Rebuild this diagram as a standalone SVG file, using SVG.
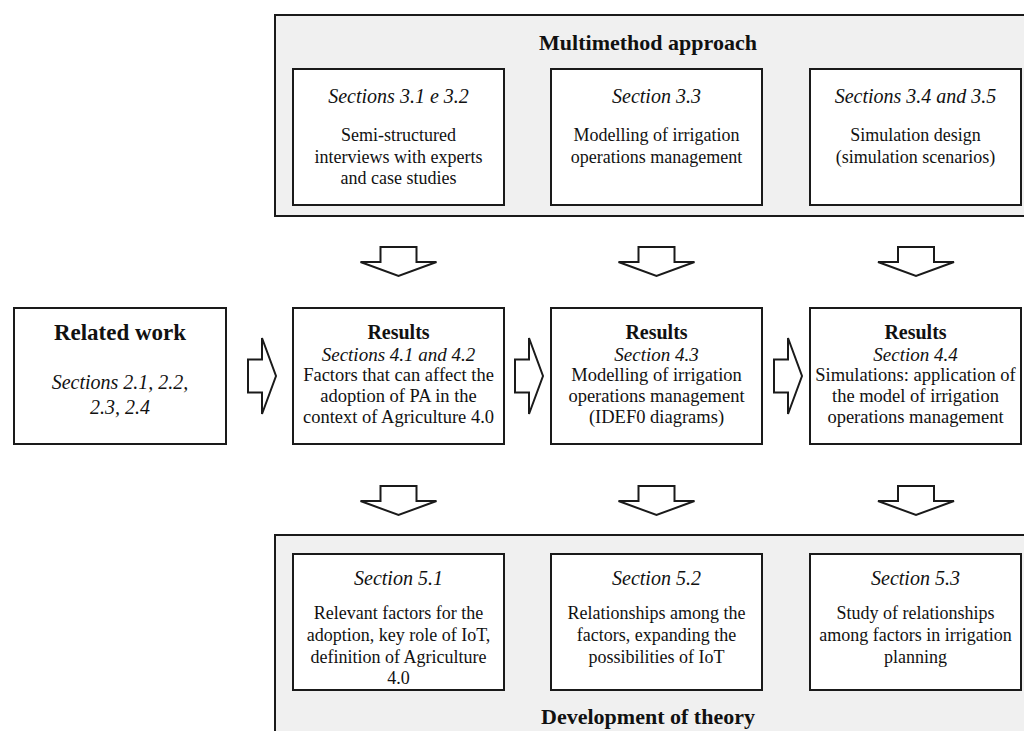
<svg xmlns="http://www.w3.org/2000/svg" width="1024" height="731" viewBox="0 0 1024 731">
  <style>
    text { font-family: "Liberation Serif", "Times New Roman", serif; fill: #111; text-anchor: middle; }
    .panel { fill: #f0f0f0; stroke: #1a1a1a; stroke-width: 2; }
    .box { fill: #ffffff; stroke: #1a1a1a; stroke-width: 2; }
    .arrow { fill: #ffffff; stroke: #1a1a1a; stroke-width: 2; stroke-linejoin: miter; }
    .title { font-size: 22px; font-weight: bold; }
    .head { font-size: 20px; font-style: italic; }
    .body { font-size: 18px; }
    .rw { font-size: 23px; font-weight: bold; }
    .rwhead { font-size: 20px; font-style: italic; }
    .rtitle { font-size: 20px; font-weight: bold; }
    .rhead { font-size: 19px; font-style: italic; }
    .rbody { font-size: 18.5px; }
  </style>
  <defs>
    <!-- block arrow pointing down, origin at top centre of the shaft -->
    <polygon id="down" class="arrow" points="-18,0 18,0 18,15 38,15 0,29 -38,15 -18,15"/>
    <!-- block arrow pointing right, origin at left middle of the shaft -->
    <polygon id="right" class="arrow" points="0,-16.5 14,-16.5 14,-38 28,0 14,38 14,16.5 0,16.5"/>
  </defs>

  <!-- Multimethod approach panel -->
  <g id="multimethod">
    <rect class="panel" x="275" y="15" width="760" height="201"/>
    <text class="title" x="648" y="50">Multimethod approach</text>
  </g>
  <g id="m1">
    <rect class="box" x="293" y="69" width="211" height="136"/>
    <text class="head" x="398.5" y="103">Sections 3.1 e 3.2</text>
    <text class="body" x="398.5" y="141">Semi-structured</text>
    <text class="body" x="398.5" y="162.5">interviews with experts</text>
    <text class="body" x="398.5" y="184">and case studies</text>
  </g>
  <g id="m2">
    <rect class="box" x="551" y="69" width="211" height="136"/>
    <text class="head" x="656.5" y="103">Section 3.3</text>
    <text class="body" x="656.5" y="141">Modelling of irrigation</text>
    <text class="body" x="656.5" y="162.5">operations management</text>
  </g>
  <g id="m3">
    <rect class="box" x="810" y="69" width="211" height="136"/>
    <text class="head" x="915.5" y="103">Sections 3.4 and 3.5</text>
    <text class="body" x="915.5" y="141">Simulation design</text>
    <text class="body" x="915.5" y="162.5">(simulation scenarios)</text>
  </g>

  <!-- Middle row -->
  <g id="related">
    <rect class="box" x="14" y="308" width="212" height="136"/>
    <text class="rw" x="120" y="340">Related work</text>
    <text class="rwhead" x="120" y="389">Sections 2.1, 2.2,</text>
    <text class="rwhead" x="120" y="414">2.3, 2.4</text>
  </g>
  <g id="r1">
    <rect class="box" x="293" y="308" width="211" height="136"/>
    <text class="rtitle" x="398.5" y="338.5">Results</text>
    <text class="rhead" x="398.5" y="360.5">Sections 4.1 and 4.2</text>
    <text class="rbody" x="398.5" y="381">Factors that can affect the</text>
    <text class="rbody" x="398.5" y="402">adoption of PA in the</text>
    <text class="rbody" x="398.5" y="423">context of Agriculture 4.0</text>
  </g>
  <g id="r2">
    <rect class="box" x="551" y="308" width="211" height="136"/>
    <text class="rtitle" x="656.5" y="338.5">Results</text>
    <text class="rhead" x="656.5" y="360.5">Section 4.3</text>
    <text class="rbody" x="656.5" y="381">Modelling of irrigation</text>
    <text class="rbody" x="656.5" y="402">operations management</text>
    <text class="rbody" x="656.5" y="423">(IDEF0 diagrams)</text>
  </g>
  <g id="r3">
    <rect class="box" x="810" y="308" width="211" height="136"/>
    <text class="rtitle" x="915.5" y="338.5">Results</text>
    <text class="rhead" x="915.5" y="360.5">Section 4.4</text>
    <text class="rbody" x="915.5" y="381">Simulations: application of</text>
    <text class="rbody" x="915.5" y="402">the model of irrigation</text>
    <text class="rbody" x="915.5" y="423">operations management</text>
  </g>

  <!-- Development of theory panel -->
  <g id="theory">
    <rect class="panel" x="275" y="535" width="760" height="210"/>
    <text class="title" x="648" y="724">Development of theory</text>
  </g>
  <g id="t1">
    <rect class="box" x="293" y="554" width="211" height="136"/>
    <text class="head" x="398.5" y="585">Section 5.1</text>
    <text class="body" x="398.5" y="619">Relevant factors for the</text>
    <text class="body" x="398.5" y="641">adoption, key role of IoT,</text>
    <text class="body" x="398.5" y="663">definition of Agriculture</text>
    <text class="body" x="398.5" y="684">4.0</text>
  </g>
  <g id="t2">
    <rect class="box" x="551" y="554" width="211" height="136"/>
    <text class="head" x="656.5" y="585">Section 5.2</text>
    <text class="body" x="656.5" y="619">Relationships among the</text>
    <text class="body" x="656.5" y="641">factors, expanding the</text>
    <text class="body" x="656.5" y="663">possibilities of IoT</text>
  </g>
  <g id="t3">
    <rect class="box" x="810" y="554" width="211" height="136"/>
    <text class="head" x="915.5" y="585">Section 5.3</text>
    <text class="body" x="915.5" y="619">Study of relationships</text>
    <text class="body" x="915.5" y="641">among factors in irrigation</text>
    <text class="body" x="915.5" y="663">planning</text>
  </g>

  <!-- Connectors: block arrows -->
  <g id="connectors">
    <use href="#down" x="398.5" y="247"/>
    <use href="#down" x="656.5" y="247"/>
    <use href="#down" x="916" y="247"/>
    <use href="#right" x="248" y="376"/>
    <use href="#right" x="515" y="376"/>
    <use href="#right" x="774" y="376"/>
    <use href="#down" x="398.5" y="486"/>
    <use href="#down" x="656.5" y="486"/>
    <use href="#down" x="916" y="486"/>
  </g>
</svg>
